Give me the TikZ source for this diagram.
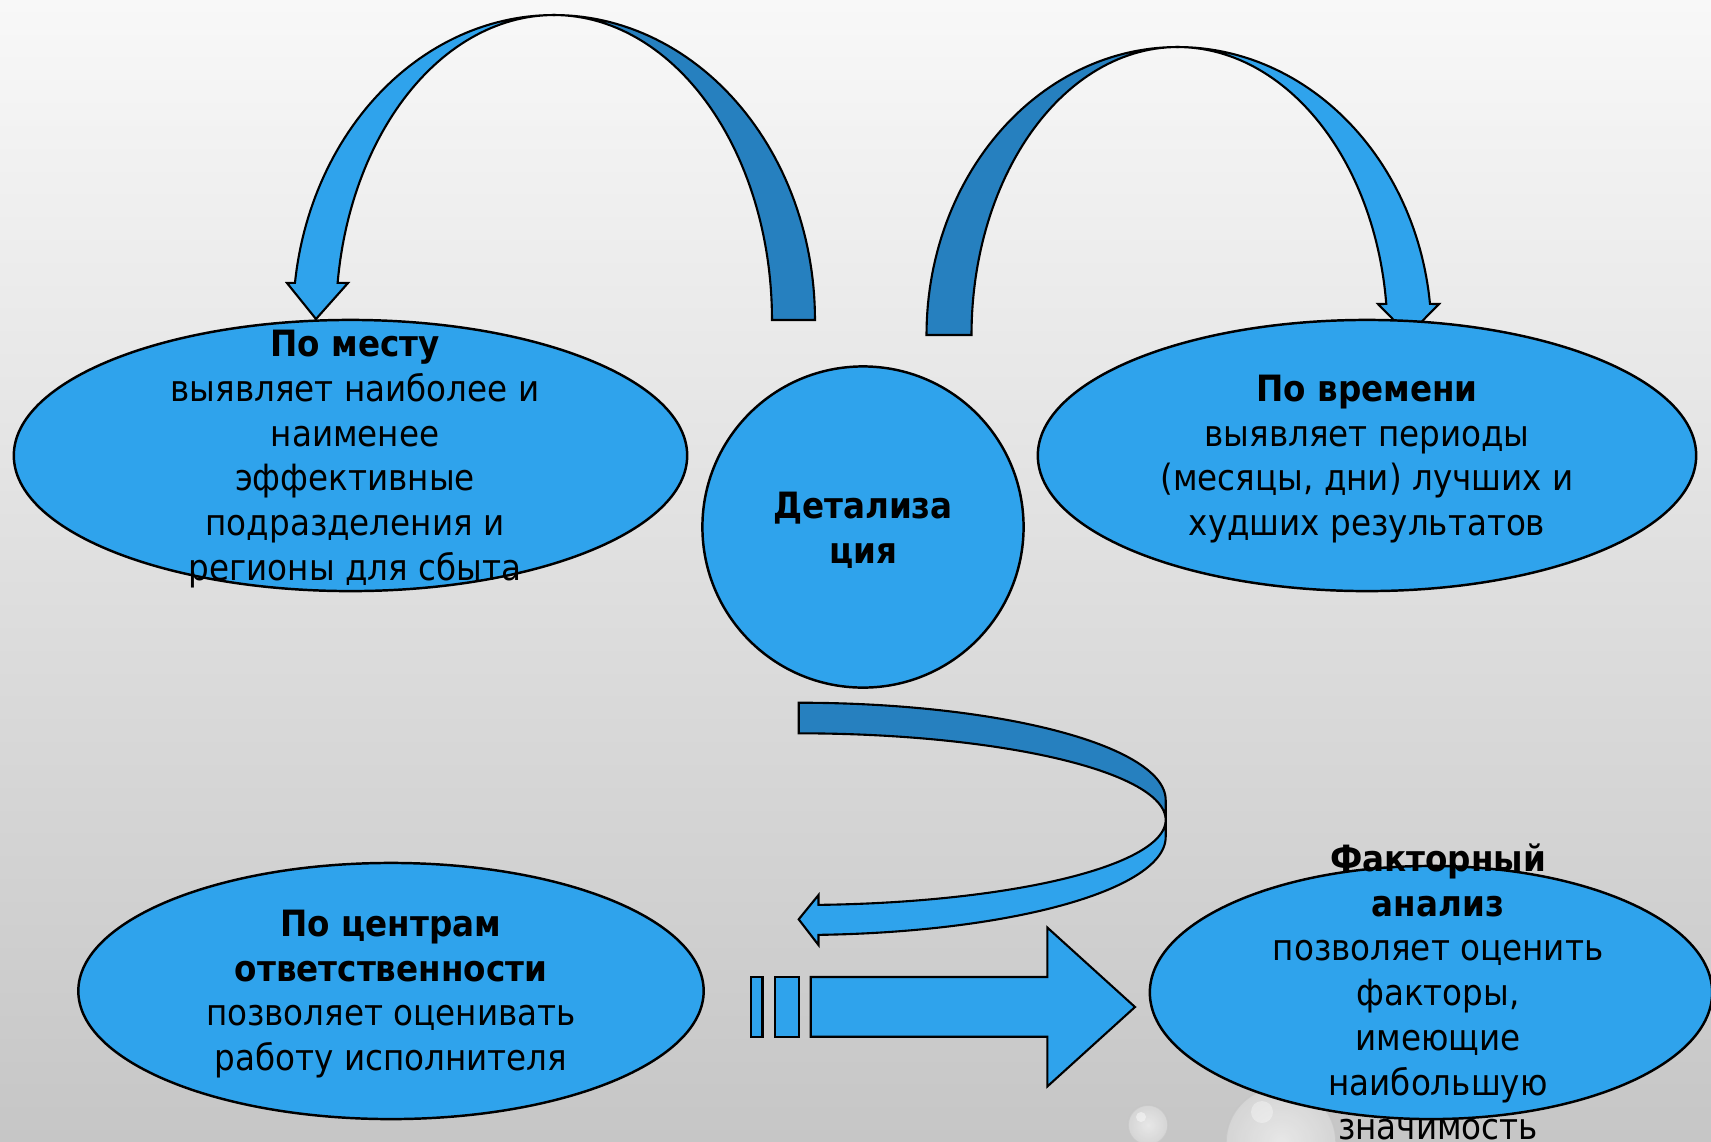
\documentclass[tikz,border=0pt]{standalone}
\usepackage{fontspec}
\setmainfont{DejaVu Sans}[FakeStretch=0.9]
\usetikzlibrary{shapes.geometric}
\definecolor{bluefill}{RGB}{47,163,236}
\definecolor{bluedark}{RGB}{38,128,191}
\definecolor{bgtop}{RGB}{248,248,248}
\definecolor{bgmid}{RGB}{228,228,228}
\definecolor{bgbot}{RGB}{198,198,198}
\begin{document}
\begin{tikzpicture}[x=0.01cm,y=-0.01cm,
  blob/.style={ellipse, draw=black, line width=0.7pt, fill=bluefill, inner sep=0pt},
  roundblob/.style={circle, draw=black, line width=0.7pt, fill=bluefill, inner sep=0pt},
  txt/.style={align=center, font=\fontsize{10.3}{12.72}\selectfont, inner sep=0pt, text=black},
  ribbon/.style={draw=black, line width=0.6pt, line join=miter},
  bubble/.style={inner color=gray!12, outer color=gray!30, draw=gray!45, line width=0.4pt, opacity=0.8},
]
% slide background
\shade[top color=bgtop, middle color=bgmid, bottom color=bgbot] (0,0) rectangle (1711,1141);
\useasboundingbox (0,0) rectangle (1711,1141);

% water drops in the lower right corner
\shade[bubble] (1148,1125) circle[radius=20];
\fill[white, opacity=0.45] (1141,1117) circle[radius=5];
\shade[bubble] (1281,1142) circle[radius=55];
\fill[white, opacity=0.35] (1262,1112) circle[radius=11];

% curved arrow: centre -> "По месту"
\filldraw[ribbon, fill=bluedark]
  plot[domain=90:0, samples=60] ({554+261*cos(\x)},{320-305*sin(\x)})
  -- plot[domain=0:90, samples=60] ({554+218*cos(\x)},{320-305*sin(\x)}) -- cycle;
\filldraw[ribbon, fill=bluefill]
  plot[domain=90:173, samples=60] ({554+261*cos(\x)},{320-305*sin(\x)})
  -- (287,283) -- (316,319) -- (348,283)
  -- plot[domain=173:90, samples=60] ({554+218*cos(\x)},{320-305*sin(\x)}) -- cycle;

% curved arrow: centre -> "По времени"
\filldraw[ribbon, fill=bluedark]
  plot[domain=90:180, samples=60] ({1177.5+251*cos(\x)},{335-288*sin(\x)})
  -- plot[domain=180:90, samples=60] ({1177.5+206*cos(\x)},{335-288*sin(\x)}) -- cycle;
\filldraw[ribbon, fill=bluefill]
  plot[domain=90:6.2, samples=60] ({1177.5+254*cos(\x)},{335-288*sin(\x)})
  -- (1439,304) -- (1408.5,335) -- (1378,304)
  -- plot[domain=6.2:90, samples=60] ({1177.5+210*cos(\x)},{335-288*sin(\x)}) -- cycle;

% U-turn arrow under the centre
\filldraw[ribbon, fill=bluedark]
  plot[domain=90:0, samples=60] ({798.7+367*cos(\x)},{800-97.3*sin(\x)})
  -- (1165.7,820)
  -- plot[domain=0:90, samples=60] ({798.7+367*cos(\x)},{820-86.7*sin(\x)}) -- cycle;
\filldraw[ribbon, fill=bluefill]
  plot[domain=0:-86.9, samples=60] ({798.7+367*cos(\x)},{820-85*sin(\x)})
  -- (818.5,895) -- (798.7,919.3) -- (818.5,945)
  -- plot[domain=-86.9:0, samples=60] ({798.7+367*cos(\x)},{837-98*sin(\x)}) -- cycle;

% striped block arrow
\filldraw[ribbon, fill=bluefill] (750.7,977) rectangle (762.5,1036.7);
\filldraw[ribbon, fill=bluefill] (774.7,977) rectangle (799.3,1036.7);
\filldraw[ribbon, fill=bluefill]
  (810.7,977) -- (1047.3,977) -- (1047.3,927.5) -- (1135,1007)
  -- (1047.3,1086.5) -- (1047.3,1036.7) -- (810.7,1036.7) -- cycle;

% ellipses
\node[blob, minimum width=6.73cm, minimum height=2.71cm] (place) at (350.5,455.5) {};
\node[roundblob, minimum size=3.21cm] (detail) at (863,527) {};
\node[blob, minimum width=6.58cm, minimum height=2.71cm] (time) at (1367,455.5) {};
\node[blob, minimum width=6.25cm, minimum height=2.56cm] (centres) at (391,991) {};
\node[blob, minimum width=5.62cm, minimum height=2.53cm] (factor) at (1431,992.5) {};

% texts
\node[txt] (placetxt) at (355,459) {\textbf{По месту}\\выявляет наиболее и\\наименее\\эффективные\\подразделения и\\регионы для сбыта};
\node[txt] (detailtxt) at (863,530) {\textbf{Детализа}\\\textbf{ция}};
\node[txt] (timetxt) at (1367,459) {\textbf{По времени}\\выявляет периоды\\(месяцы, дни) лучших и\\худших результатов};
\node[txt] (centrestxt) at (391,994) {\textbf{По центрам}\\\textbf{ответственности}\\позволяет оценивать\\работу исполнителя};
\node[txt] (factortxt) at (1438,992) {\textbf{Факторный}\\\textbf{анализ}\\позволяет оценить\\факторы,\\имеющие\\наибольшую\\значимость};
\end{tikzpicture}
\end{document}
